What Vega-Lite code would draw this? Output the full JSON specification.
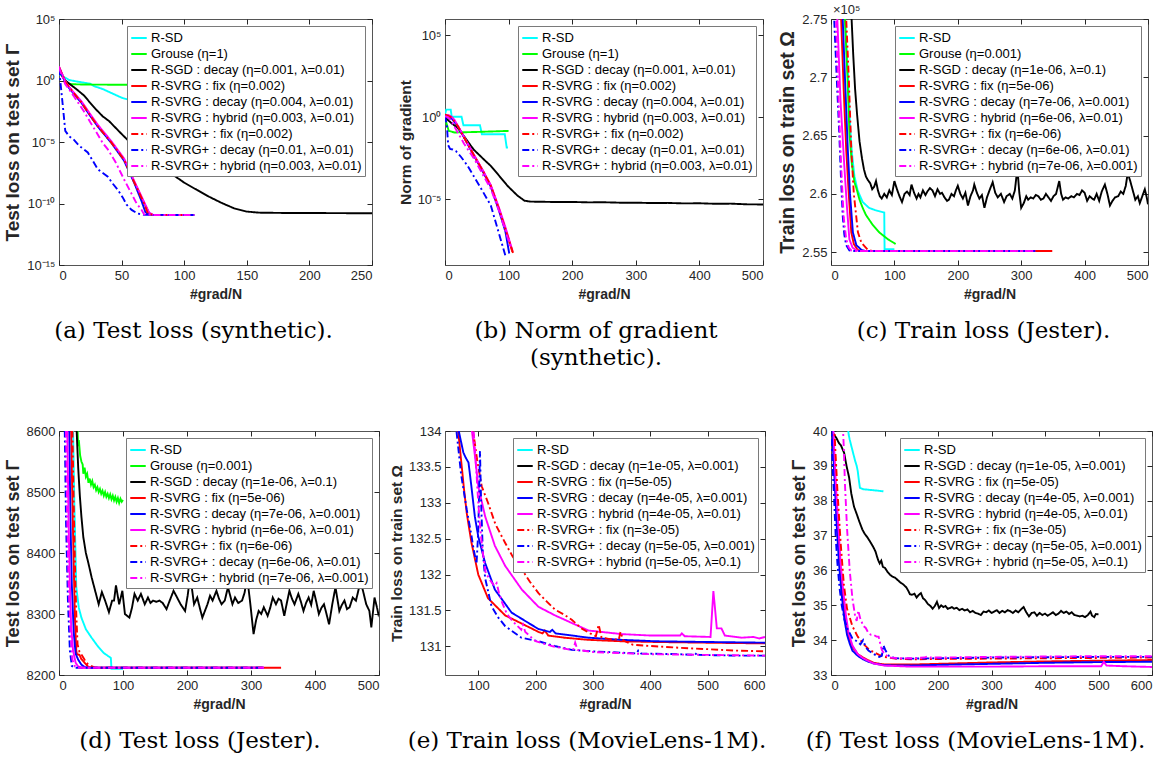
{
"$schema": "https://vega.github.io/schema/vega-lite/v6.json",
"background": "white",
"padding": {"left": 3, "top": 3, "right": 0, "bottom": 0},
"bounds": "flush",
"columns": 3,
"spacing": {"row": 166, "column": 66},
"config": {
  "font": "Liberation Sans",
  "view": {"stroke": "#555555", "strokeWidth": 1},
  "axis": {"domain": false, "grid": false, "ticks": true, "tickSize": -5, "tickColor": "#262626", "labelPadding": 9, "labelFont": "Liberation Sans", "labelFontSize": 13, "labelColor": "#262626", "titleFont": "Liberation Sans", "titleFontSize": 14, "titleFontWeight": "bold", "titleColor": "#262626", "titlePadding": 5},
  "axisY": {"titleFontSize": 16, "titlePadding": 4},
  "legend": {"orient": "top-right", "offset": 7, "fillColor": "white", "strokeColor": "#7a7a7a", "padding": 3, "labelFont": "Liberation Sans", "labelFontSize": 13, "labelColor": "#000000", "symbolSize": 240, "symbolStrokeWidth": 2, "rowPadding": 0, "labelOffset": 3, "labelLimit": 400},
  "title": {"orient": "bottom", "font": "DejaVu Serif", "fontSize": 23, "fontWeight": "normal", "color": "#000000", "offset": 19, "lineHeight": 27, "anchor": "middle"}
},
"resolve": {"scale": {"color": "independent", "strokeDash": "independent"}, "legend": {"color": "independent", "strokeDash": "independent"}},
"concat": [
{
 "width": 313, "height": 246,
 "title": {"text": "(a) Test loss (synthetic).", "dx": -22},
 "data": {"values": [
  {"k":"sd","x":0,"y":3.5},{"k":"sd","x":3,"y":2.2},{"k":"sd","x":6,"y":1.5},{"k":"sd","x":8,"y":1.1},{"k":"sd","x":15,"y":0.8},{"k":"sd","x":25,"y":0.55},{"k":"sd","x":28,"y":0.35},{"k":"sd","x":35,"y":0.2},{"k":"sd","x":50,"y":0.04},{"k":"sd","x":70,"y":0.01},{"k":"sd","x":100,"y":0.003},
  {"k":"gr","x":0,"y":12},{"k":"gr","x":2,"y":4},{"k":"gr","x":4,"y":1.5},{"k":"gr","x":6,"y":0.6},{"k":"gr","x":10,"y":0.5},{"k":"gr","x":20,"y":0.47},{"k":"gr","x":50,"y":0.45},{"k":"gr","x":100,"y":0.44},
  {"k":"sgd","x":0,"y":6},{"k":"sgd","x":5,"y":1.0},{"k":"sgd","x":10,"y":0.4},{"k":"sgd","x":15,"y":0.16},{"k":"sgd","x":20,"y":0.06},{"k":"sgd","x":25,"y":0.015},{"k":"sgd","x":30,"y":0.004},{"k":"sgd","x":35,"y":0.0012},{"k":"sgd","x":40,"y":0.0005},{"k":"sgd","x":45,"y":0.00015},{"k":"sgd","x":50,"y":4.5e-5},{"k":"sgd","x":55,"y":1.4e-5},{"k":"sgd","x":60,"y":5e-6},{"k":"sgd","x":70,"y":8e-7},{"k":"sgd","x":80,"y":1.3e-7},{"k":"sgd","x":90,"y":2.5e-8},{"k":"sgd","x":100,"y":5e-9},{"k":"sgd","x":110,"y":1.3e-9},{"k":"sgd","x":120,"y":3.5e-10},{"k":"sgd","x":130,"y":1.1e-10},{"k":"sgd","x":140,"y":4e-11},{"k":"sgd","x":150,"y":2.2e-11},{"k":"sgd","x":160,"y":1.8e-11},{"k":"sgd","x":180,"y":1.7e-11},{"k":"sgd","x":200,"y":1.7e-11},{"k":"sgd","x":220,"y":1.65e-11},{"k":"sgd","x":250,"y":1.6e-11},
  {"k":"svf","x":0,"y":12},{"k":"svf","x":2,"y":4},{"k":"svf","x":5,"y":0.8},{"k":"svf","x":8,"y":0.3},{"k":"svf","x":12,"y":0.09},{"k":"svf","x":18,"y":0.017},{"k":"svf","x":25,"y":0.0015},{"k":"svf","x":31,"y":0.0002},{"k":"svf","x":42,"y":9e-6},{"k":"svf","x":52,"y":3.8e-7},{"k":"svf","x":60,"y":6e-9},{"k":"svf","x":68,"y":1.1e-10},{"k":"svf","x":72,"y":1.6e-11},{"k":"svf","x":75,"y":1.2e-11},{"k":"svf","x":90,"y":1.15e-11},{"k":"svf","x":108,"y":1.15e-11},
  {"k":"svd","x":0,"y":10},{"k":"svd","x":2,"y":3.5},{"k":"svd","x":5,"y":0.7},{"k":"svd","x":8,"y":0.25},{"k":"svd","x":12,"y":0.08},{"k":"svd","x":18,"y":0.015},{"k":"svd","x":25,"y":0.0013},{"k":"svd","x":31,"y":0.00018},{"k":"svd","x":42,"y":8e-6},{"k":"svd","x":52,"y":3e-7},{"k":"svd","x":60,"y":5e-9},{"k":"svd","x":66,"y":1.5e-10},{"k":"svd","x":69,"y":2e-11},{"k":"svd","x":72,"y":1.2e-11},{"k":"svd","x":90,"y":1.15e-11},{"k":"svd","x":108,"y":1.15e-11},
  {"k":"svh","x":0,"y":14},{"k":"svh","x":2,"y":4.5},{"k":"svh","x":5,"y":0.9},{"k":"svh","x":8,"y":0.3},{"k":"svh","x":12,"y":0.1},{"k":"svh","x":18,"y":0.02},{"k":"svh","x":25,"y":0.0018},{"k":"svh","x":31,"y":0.00025},{"k":"svh","x":42,"y":1.1e-5},{"k":"svh","x":52,"y":4.5e-7},{"k":"svh","x":60,"y":7e-9},{"k":"svh","x":68,"y":1.3e-10},{"k":"svh","x":72,"y":1.8e-11},{"k":"svh","x":75,"y":1.2e-11},{"k":"svh","x":108,"y":1.15e-11},
  {"k":"spf","x":0,"y":12},{"k":"spf","x":2,"y":4},{"k":"spf","x":5,"y":0.8},{"k":"spf","x":8,"y":0.3},{"k":"spf","x":12,"y":0.09},{"k":"spf","x":18,"y":0.016},{"k":"spf","x":25,"y":0.0014},{"k":"spf","x":31,"y":0.00019},{"k":"spf","x":42,"y":8.5e-6},{"k":"spf","x":52,"y":3.5e-7},{"k":"spf","x":60,"y":5.5e-9},{"k":"spf","x":68,"y":1e-10},{"k":"spf","x":71,"y":1.5e-11},{"k":"spf","x":75,"y":1.2e-11},{"k":"spf","x":108,"y":1.15e-11},
  {"k":"spd","x":0,"y":10},{"k":"spd","x":1,"y":1},{"k":"spd","x":3,"y":0.01},{"k":"spd","x":5,"y":8e-5},{"k":"spd","x":8,"y":3e-5},{"k":"spd","x":12,"y":1.5e-5},{"k":"spd","x":16,"y":5e-6},{"k":"spd","x":20,"y":2.5e-6},{"k":"spd","x":23,"y":1.4e-6},{"k":"spd","x":27,"y":3e-7},{"k":"spd","x":31,"y":6e-8},{"k":"spd","x":35,"y":3e-8},{"k":"spd","x":39,"y":1.5e-8},{"k":"spd","x":43,"y":4e-9},{"k":"spd","x":47,"y":1.3e-9},{"k":"spd","x":51,"y":3e-10},{"k":"spd","x":54,"y":8e-11},{"k":"spd","x":58,"y":3e-11},{"k":"spd","x":63,"y":1.5e-11},{"k":"spd","x":68,"y":1.2e-11},{"k":"spd","x":108,"y":1.15e-11},
  {"k":"sph","x":0,"y":12},{"k":"sph","x":2,"y":3},{"k":"sph","x":5,"y":0.5},{"k":"sph","x":8,"y":0.2},{"k":"sph","x":12,"y":0.05},{"k":"sph","x":16,"y":0.012},{"k":"sph","x":20,"y":0.003},{"k":"sph","x":25,"y":0.0004},{"k":"sph","x":30,"y":6e-5},{"k":"sph","x":35,"y":8e-6},{"k":"sph","x":39,"y":2.5e-6},{"k":"sph","x":45,"y":2.5e-7},{"k":"sph","x":52,"y":9e-9},{"k":"sph","x":58,"y":6e-10},{"k":"sph","x":62,"y":1e-10},{"k":"sph","x":66,"y":3e-11},{"k":"sph","x":68,"y":1.3e-11},{"k":"sph","x":75,"y":1.15e-11},{"k":"sph","x":108,"y":1.15e-11}
 ]},
 "layer": [
  {"mark": {"type": "line", "clip": true, "strokeWidth": 1.9},
   "encoding": {
    "x": {"field": "x", "type": "quantitative", "scale": {"domain": [0, 250], "nice": false, "zero": false}, "axis": {"values": [0, 50, 100, 150, 200, 250], "title": "#grad/N"}},
    "y": {"field": "y", "type": "quantitative", "scale": {"type": "log", "domain": [1e-15, 100000], "nice": false}, "axis": {"values": [1e-15, 1e-10, 1e-5, 1, 100000], "labelExpr": "datum.value >= 1e4 ? '10⁵' : datum.value >= 0.1 ? '10⁰' : datum.value >= 1e-6 ? '10⁻⁵' : datum.value >= 1e-11 ? '10⁻¹⁰' : '10⁻¹⁵'", "title": "Test loss on test set Γ", "titleFontSize": 19}},
    "color": {"field": "k", "type": "nominal", "scale": {"domain": ["sd","gr","sgd","svf","svd","svh","spf","spd","sph"], "range": ["#00ffff","#00ff00","#000000","#ff0000","#0000ff","#ff00ff","#ff0000","#0000ff","#ff00ff"]}, "legend": {"title": null, "labelExpr": "['R-SD','Grouse (η=1)','R-SGD : decay (η=0.001, λ=0.01)','R-SVRG : fix (η=0.002)','R-SVRG : decay (η=0.004, λ=0.01)','R-SVRG : hybrid (η=0.003, λ=0.01)','R-SVRG+ : fix (η=0.002)','R-SVRG+ : decay (η=0.01, λ=0.01)','R-SVRG+ : hybrid (η=0.003, λ=0.01)'][indexof(['sd','gr','sgd','svf','svd','svh','spf','spd','sph'], datum.value)]"}},
    "strokeDash": {"field": "k", "type": "nominal", "scale": {"domain": ["sd","gr","sgd","svf","svd","svh","spf","spd","sph"], "range": [[1,0],[1,0],[1,0],[1,0],[1,0],[1,0],[7,3,2,3],[7,3,2,3],[7,3,2,3]]}, "legend": {"title": null, "labelExpr": "['R-SD','Grouse (η=1)','R-SGD : decay (η=0.001, λ=0.01)','R-SVRG : fix (η=0.002)','R-SVRG : decay (η=0.004, λ=0.01)','R-SVRG : hybrid (η=0.003, λ=0.01)','R-SVRG+ : fix (η=0.002)','R-SVRG+ : decay (η=0.01, λ=0.01)','R-SVRG+ : hybrid (η=0.003, λ=0.01)'][indexof(['sd','gr','sgd','svf','svd','svh','spf','spd','sph'], datum.value)]"}}
   }},
  {"mark": {"type": "line", "opacity": 0, "clip": true},
   "encoding": {
    "x": {"field": "x", "type": "quantitative", "scale": {"domain": [0, 250], "nice": false, "zero": false}, "axis": {"orient": "top", "values": [0, 50, 100, 150, 200, 250], "labels": false, "title": null}},
    "y": {"field": "y", "type": "quantitative", "scale": {"type": "log", "domain": [1e-15, 100000], "nice": false}, "axis": {"orient": "right", "values": [1e-15, 1e-10, 1e-5, 1, 100000], "labels": false, "title": null}}
   }}
 ],
 "resolve": {"axis": {"x": "independent", "y": "independent"}}
},
{
 "width": 318, "height": 246,
 "title": {"text": ["(b) Norm of gradient", "(synthetic)."], "dx": -8},
 "data": {"values": [
  {"k":"sd","x":0,"y":1.5},{"k":"sd","x":2,"y":3.0},{"k":"sd","x":9,"y":3.0},{"k":"sd","x":10.5,"y":1.1},{"k":"sd","x":26,"y":1.1},{"k":"sd","x":29,"y":0.33},{"k":"sd","x":55,"y":0.33},{"k":"sd","x":58,"y":0.093},{"k":"sd","x":94,"y":0.093},{"k":"sd","x":97,"y":0.0145},{"k":"sd","x":99,"y":0.0145},
  {"k":"gr","x":0,"y":1.0},{"k":"gr","x":3,"y":0.35},{"k":"gr","x":6,"y":0.15},{"k":"gr","x":15,"y":0.12},{"k":"gr","x":50,"y":0.13},{"k":"gr","x":100,"y":0.15},
  {"k":"sgd","x":0,"y":1.0},{"k":"sgd","x":10,"y":0.45},{"k":"sgd","x":20,"y":0.23},{"k":"sgd","x":30,"y":0.07},{"k":"sgd","x":45,"y":0.011},{"k":"sgd","x":60,"y":0.003},{"k":"sgd","x":72,"y":0.0011},{"k":"sgd","x":85,"y":0.00028},{"k":"sgd","x":98,"y":6.9e-5},{"k":"sgd","x":114,"y":1.7e-5},{"k":"sgd","x":125,"y":8.3e-6},{"k":"sgd","x":135,"y":7.3e-6},{"k":"sgd","x":150,"y":7.2e-6},{"k":"sgd","x":175,"y":6.9e-6},{"k":"sgd","x":200,"y":7.0e-6},{"k":"sgd","x":225,"y":6.6e-6},{"k":"sgd","x":250,"y":6.7e-6},{"k":"sgd","x":275,"y":6.3e-6},{"k":"sgd","x":300,"y":6.3e-6},{"k":"sgd","x":325,"y":6.0e-6},{"k":"sgd","x":350,"y":6.1e-6},{"k":"sgd","x":375,"y":5.7e-6},{"k":"sgd","x":400,"y":5.8e-6},{"k":"sgd","x":425,"y":5.4e-6},{"k":"sgd","x":450,"y":5.5e-6},{"k":"sgd","x":475,"y":5.0e-6},{"k":"sgd","x":500,"y":4.9e-6},
  {"k":"svf","x":0,"y":1.5},{"k":"svf","x":5,"y":1.3},{"k":"svf","x":8,"y":1.2},{"k":"svf","x":12,"y":0.9},{"k":"svf","x":20,"y":0.3},{"k":"svf","x":30,"y":0.06},{"k":"svf","x":46,"y":0.0046},{"k":"svf","x":60,"y":0.0005},{"k":"svf","x":72,"y":6.9e-5},{"k":"svf","x":85,"y":2.5e-6},{"k":"svf","x":95,"y":1.6e-7},{"k":"svf","x":106,"y":6.3e-9},
  {"k":"svd","x":0,"y":1.3},{"k":"svd","x":5,"y":1.1},{"k":"svd","x":10,"y":0.9},{"k":"svd","x":20,"y":0.3},{"k":"svd","x":30,"y":0.06},{"k":"svd","x":46,"y":0.0043},{"k":"svd","x":60,"y":0.00045},{"k":"svd","x":72,"y":6e-5},{"k":"svd","x":85,"y":2e-6},{"k":"svd","x":95,"y":1.1e-7},{"k":"svd","x":101,"y":5e-9},
  {"k":"svh","x":0,"y":1.2},{"k":"svh","x":5,"y":1.4},{"k":"svh","x":10,"y":1.1},{"k":"svh","x":15,"y":0.7},{"k":"svh","x":20,"y":0.32},{"k":"svh","x":30,"y":0.065},{"k":"svh","x":46,"y":0.0048},{"k":"svh","x":60,"y":0.00055},{"k":"svh","x":72,"y":7.5e-5},{"k":"svh","x":85,"y":3e-6},{"k":"svh","x":95,"y":2e-7},{"k":"svh","x":106,"y":7.5e-9},
  {"k":"spf","x":0,"y":1.4},{"k":"spf","x":5,"y":1.25},{"k":"spf","x":10,"y":1.0},{"k":"spf","x":20,"y":0.3},{"k":"spf","x":30,"y":0.06},{"k":"spf","x":46,"y":0.0045},{"k":"spf","x":60,"y":0.0005},{"k":"spf","x":72,"y":6.8e-5},{"k":"spf","x":85,"y":2.5e-6},{"k":"spf","x":95,"y":1.5e-7},{"k":"spf","x":107,"y":5.5e-9},
  {"k":"spd","x":0,"y":1.3},{"k":"spd","x":3,"y":0.3},{"k":"spd","x":5,"y":0.02},{"k":"spd","x":8,"y":0.012},{"k":"spd","x":12,"y":0.011},{"k":"spd","x":17,"y":0.009},{"k":"spd","x":25,"y":0.004},{"k":"spd","x":35,"y":0.0012},{"k":"spd","x":45,"y":0.00027},{"k":"spd","x":55,"y":6e-5},{"k":"spd","x":72,"y":4.3e-6},{"k":"spd","x":85,"y":8e-8},{"k":"spd","x":95,"y":3.6e-9},
  {"k":"sph","x":0,"y":1.2},{"k":"sph","x":5,"y":1.0},{"k":"sph","x":10,"y":0.6},{"k":"sph","x":20,"y":0.12},{"k":"sph","x":30,"y":0.025},{"k":"sph","x":46,"y":0.0029},{"k":"sph","x":60,"y":0.0003},{"k":"sph","x":72,"y":4.4e-5},{"k":"sph","x":85,"y":2e-6},{"k":"sph","x":95,"y":1.2e-7},{"k":"sph","x":104,"y":1e-8}
 ]},
 "layer": [
  {"mark": {"type": "line", "clip": true, "strokeWidth": 1.9},
   "encoding": {
    "x": {"field": "x", "type": "quantitative", "scale": {"domain": [0, 500], "nice": false, "zero": false}, "axis": {"values": [0, 100, 200, 300, 400, 500], "title": "#grad/N"}},
    "y": {"field": "y", "type": "quantitative", "scale": {"type": "log", "domain": [1e-9, 1000000], "nice": false}, "axis": {"values": [1e-5, 1, 100000], "labelExpr": "datum.value >= 1e4 ? '10⁵' : datum.value >= 0.1 ? '10⁰' : '10⁻⁵'", "title": "Norm of gradient", "titleFontSize": 15.5}},
    "color": {"field": "k", "type": "nominal", "scale": {"domain": ["sd","gr","sgd","svf","svd","svh","spf","spd","sph"], "range": ["#00ffff","#00ff00","#000000","#ff0000","#0000ff","#ff00ff","#ff0000","#0000ff","#ff00ff"]}, "legend": {"title": null, "labelExpr": "['R-SD','Grouse (η=1)','R-SGD : decay (η=0.001, λ=0.01)','R-SVRG : fix (η=0.002)','R-SVRG : decay (η=0.004, λ=0.01)','R-SVRG : hybrid (η=0.003, λ=0.01)','R-SVRG+ : fix (η=0.002)','R-SVRG+ : decay (η=0.01, λ=0.01)','R-SVRG+ : hybrid (η=0.003, λ=0.01)'][indexof(['sd','gr','sgd','svf','svd','svh','spf','spd','sph'], datum.value)]"}},
    "strokeDash": {"field": "k", "type": "nominal", "scale": {"domain": ["sd","gr","sgd","svf","svd","svh","spf","spd","sph"], "range": [[1,0],[1,0],[1,0],[1,0],[1,0],[1,0],[7,3,2,3],[7,3,2,3],[7,3,2,3]]}, "legend": {"title": null, "labelExpr": "['R-SD','Grouse (η=1)','R-SGD : decay (η=0.001, λ=0.01)','R-SVRG : fix (η=0.002)','R-SVRG : decay (η=0.004, λ=0.01)','R-SVRG : hybrid (η=0.003, λ=0.01)','R-SVRG+ : fix (η=0.002)','R-SVRG+ : decay (η=0.01, λ=0.01)','R-SVRG+ : hybrid (η=0.003, λ=0.01)'][indexof(['sd','gr','sgd','svf','svd','svh','spf','spd','sph'], datum.value)]"}}
   }},
  {"mark": {"type": "line", "opacity": 0, "clip": true},
   "encoding": {
    "x": {"field": "x", "type": "quantitative", "scale": {"domain": [0, 500], "nice": false, "zero": false}, "axis": {"orient": "top", "values": [0, 100, 200, 300, 400, 500], "labels": false, "title": null}},
    "y": {"field": "y", "type": "quantitative", "scale": {"type": "log", "domain": [1e-9, 1000000], "nice": false}, "axis": {"orient": "right", "values": [1e-5, 1, 100000], "labels": false, "title": null}}
   }}
 ],
 "resolve": {"axis": {"x": "independent", "y": "independent"}}
},
{
 "width": 317, "height": 246,
 "title": {"text": "(c) Train loss (Jester).", "dx": -6},
 "data": {"values": [
  {"k":"sd","x":18,"y":2.80},{"k":"sd","x":22,"y":2.75},{"k":"sd","x":25,"y":2.72},{"k":"sd","x":27,"y":2.70},{"k":"sd","x":30,"y":2.66},{"k":"sd","x":33,"y":2.635},{"k":"sd","x":37,"y":2.615},{"k":"sd","x":42,"y":2.603},{"k":"sd","x":50,"y":2.593},{"k":"sd","x":60,"y":2.588},{"k":"sd","x":70,"y":2.586},{"k":"sd","x":84,"y":2.584},{"k":"sd","x":84.5,"y":2.5525},{"k":"sd","x":100,"y":2.5525},
  {"k":"gr","x":18,"y":2.80},{"k":"gr","x":22,"y":2.75},{"k":"gr","x":26,"y":2.70},{"k":"gr","x":29,"y":2.652},{"k":"gr","x":33,"y":2.625},{"k":"gr","x":37,"y":2.61},{"k":"gr","x":40,"y":2.605},{"k":"gr","x":45,"y":2.595},{"k":"gr","x":50,"y":2.588},{"k":"gr","x":55,"y":2.582},{"k":"gr","x":65,"y":2.574},{"k":"gr","x":76,"y":2.567},{"k":"gr","x":90,"y":2.561},{"k":"gr","x":102,"y":2.557},
  {"k":"sgd","x":30,"y":2.80},{"k":"sgd","x":32.5,"y":2.75},{"k":"sgd","x":35,"y":2.72},{"k":"sgd","x":38,"y":2.69},{"k":"sgd","x":41,"y":2.669},{"k":"sgd","x":45,"y":2.645},{"k":"sgd","x":49,"y":2.63},{"k":"sgd","x":52,"y":2.621},{"k":"sgd","x":55,"y":2.615},{"k":"sgd","x":58,"y":2.612},{"k":"sgd","x":62,"y":2.609},{"k":"sgd","x":65,"y":2.604},{"k":"sgd","x":68,"y":2.606},{"k":"sgd","x":71,"y":2.611},{"k":"sgd","x":74,"y":2.603},{"k":"sgd","x":77,"y":2.598},{"k":"sgd","x":80,"y":2.596},{"k":"sgd","x":84,"y":2.600},{"k":"sgd","x":88,"y":2.597},{"k":"sgd","x":92,"y":2.603},{"k":"sgd","x":96,"y":2.599},{"k":"sgd","x":100,"y":2.611},{"k":"sgd","x":104,"y":2.604},{"k":"sgd","x":108,"y":2.598},{"k":"sgd","x":112,"y":2.593},{"k":"sgd","x":116,"y":2.600},{"k":"sgd","x":120,"y":2.602},{"k":"sgd","x":124,"y":2.599},{"k":"sgd","x":127,"y":2.608},{"k":"sgd","x":131,"y":2.601},{"k":"sgd","x":135,"y":2.596},{"k":"sgd","x":138,"y":2.600},{"k":"sgd","x":141,"y":2.597},{"k":"sgd","x":145,"y":2.603},{"k":"sgd","x":149,"y":2.599},{"k":"sgd","x":152,"y":2.602},{"k":"sgd","x":156,"y":2.605},{"k":"sgd","x":160,"y":2.603},{"k":"sgd","x":164,"y":2.598},{"k":"sgd","x":168,"y":2.604},{"k":"sgd","x":172,"y":2.600},{"k":"sgd","x":175,"y":2.601},{"k":"sgd","x":179,"y":2.597},{"k":"sgd","x":183,"y":2.594},{"k":"sgd","x":186,"y":2.595},{"k":"sgd","x":190,"y":2.600},{"k":"sgd","x":194,"y":2.598},{"k":"sgd","x":197,"y":2.603},{"k":"sgd","x":200,"y":2.607},{"k":"sgd","x":204,"y":2.600},{"k":"sgd","x":208,"y":2.596},{"k":"sgd","x":212,"y":2.601},{"k":"sgd","x":216,"y":2.590},{"k":"sgd","x":220,"y":2.598},{"k":"sgd","x":224,"y":2.603},{"k":"sgd","x":226,"y":2.608},{"k":"sgd","x":230,"y":2.601},{"k":"sgd","x":234,"y":2.596},{"k":"sgd","x":238,"y":2.599},{"k":"sgd","x":242,"y":2.588},{"k":"sgd","x":246,"y":2.597},{"k":"sgd","x":250,"y":2.603},{"k":"sgd","x":255,"y":2.610},{"k":"sgd","x":259,"y":2.601},{"k":"sgd","x":263,"y":2.597},{"k":"sgd","x":268,"y":2.600},{"k":"sgd","x":273,"y":2.593},{"k":"sgd","x":277,"y":2.598},{"k":"sgd","x":282,"y":2.600},{"k":"sgd","x":286,"y":2.596},{"k":"sgd","x":290,"y":2.603},{"k":"sgd","x":294,"y":2.622},{"k":"sgd","x":297,"y":2.601},{"k":"sgd","x":300,"y":2.588},{"k":"sgd","x":304,"y":2.592},{"k":"sgd","x":308,"y":2.598},{"k":"sgd","x":311,"y":2.595},{"k":"sgd","x":315,"y":2.597},{"k":"sgd","x":319,"y":2.596},{"k":"sgd","x":323,"y":2.599},{"k":"sgd","x":327,"y":2.598},{"k":"sgd","x":331,"y":2.595},{"k":"sgd","x":335,"y":2.596},{"k":"sgd","x":339,"y":2.600},{"k":"sgd","x":343,"y":2.597},{"k":"sgd","x":347,"y":2.594},{"k":"sgd","x":351,"y":2.598},{"k":"sgd","x":355,"y":2.600},{"k":"sgd","x":360,"y":2.611},{"k":"sgd","x":363,"y":2.600},{"k":"sgd","x":366,"y":2.595},{"k":"sgd","x":370,"y":2.597},{"k":"sgd","x":374,"y":2.596},{"k":"sgd","x":379,"y":2.598},{"k":"sgd","x":383,"y":2.597},{"k":"sgd","x":388,"y":2.600},{"k":"sgd","x":392,"y":2.599},{"k":"sgd","x":396,"y":2.603},{"k":"sgd","x":400,"y":2.601},{"k":"sgd","x":404,"y":2.594},{"k":"sgd","x":408,"y":2.598},{"k":"sgd","x":412,"y":2.596},{"k":"sgd","x":415,"y":2.595},{"k":"sgd","x":419,"y":2.600},{"k":"sgd","x":423,"y":2.594},{"k":"sgd","x":427,"y":2.602},{"k":"sgd","x":432,"y":2.608},{"k":"sgd","x":436,"y":2.600},{"k":"sgd","x":440,"y":2.590},{"k":"sgd","x":444,"y":2.594},{"k":"sgd","x":448,"y":2.597},{"k":"sgd","x":453,"y":2.598},{"k":"sgd","x":457,"y":2.602},{"k":"sgd","x":461,"y":2.600},{"k":"sgd","x":465,"y":2.607},{"k":"sgd","x":468,"y":2.618},{"k":"sgd","x":472,"y":2.611},{"k":"sgd","x":476,"y":2.603},{"k":"sgd","x":480,"y":2.595},{"k":"sgd","x":484,"y":2.598},{"k":"sgd","x":487,"y":2.592},{"k":"sgd","x":491,"y":2.598},{"k":"sgd","x":495,"y":2.604},{"k":"sgd","x":498,"y":2.597},{"k":"sgd","x":500,"y":2.591},
  {"k":"svf","x":14,"y":2.80},{"k":"svf","x":16,"y":2.75},{"k":"svf","x":20,"y":2.69},{"k":"svf","x":24,"y":2.638},{"k":"svf","x":28,"y":2.60},{"k":"svf","x":32,"y":2.567},{"k":"svf","x":36,"y":2.557},{"k":"svf","x":42,"y":2.552},{"k":"svf","x":50,"y":2.551},{"k":"svf","x":200,"y":2.551},{"k":"svf","x":349,"y":2.551},
  {"k":"svd","x":16,"y":2.80},{"k":"svd","x":18.5,"y":2.75},{"k":"svd","x":22,"y":2.70},{"k":"svd","x":26.5,"y":2.638},{"k":"svd","x":30,"y":2.60},{"k":"svd","x":34.5,"y":2.567},{"k":"svd","x":40,"y":2.556},{"k":"svd","x":48,"y":2.552},{"k":"svd","x":55,"y":2.551},{"k":"svd","x":322,"y":2.551},
  {"k":"svh","x":8,"y":2.80},{"k":"svh","x":10,"y":2.75},{"k":"svh","x":15,"y":2.68},{"k":"svh","x":21,"y":2.624},{"k":"svh","x":25,"y":2.59},{"k":"svh","x":29,"y":2.561},{"k":"svh","x":34,"y":2.554},{"k":"svh","x":40,"y":2.5515},{"k":"svh","x":45,"y":2.551},{"k":"svh","x":322,"y":2.551},
  {"k":"spf","x":21,"y":2.80},{"k":"spf","x":24,"y":2.75},{"k":"spf","x":28,"y":2.70},{"k":"spf","x":32,"y":2.638},{"k":"spf","x":36,"y":2.60},{"k":"spf","x":42.5,"y":2.567},{"k":"spf","x":48,"y":2.558},{"k":"spf","x":58,"y":2.552},{"k":"spf","x":65,"y":2.551},{"k":"spf","x":322,"y":2.551},
  {"k":"spd","x":3,"y":2.80},{"k":"spd","x":5,"y":2.75},{"k":"spd","x":9,"y":2.70},{"k":"spd","x":13,"y":2.652},{"k":"spd","x":16,"y":2.61},{"k":"spd","x":18.5,"y":2.581},{"k":"spd","x":21,"y":2.565},{"k":"spd","x":24,"y":2.556},{"k":"spd","x":29,"y":2.5515},{"k":"spd","x":35,"y":2.551},{"k":"spd","x":322,"y":2.551},
  {"k":"sph","x":6,"y":2.80},{"k":"sph","x":8,"y":2.75},{"k":"sph","x":12,"y":2.68},{"k":"sph","x":16,"y":2.624},{"k":"sph","x":20,"y":2.58},{"k":"sph","x":24,"y":2.561},{"k":"sph","x":28,"y":2.554},{"k":"sph","x":32,"y":2.5515},{"k":"sph","x":38,"y":2.551},{"k":"sph","x":322,"y":2.551}
 ]},
 "layer": [
  {"mark": {"type": "line", "clip": true, "strokeWidth": 1.9},
   "encoding": {
    "x": {"field": "x", "type": "quantitative", "scale": {"domain": [0, 500], "nice": false, "zero": false}, "axis": {"values": [0, 100, 200, 300, 400, 500], "title": "#grad/N"}},
    "y": {"field": "y", "type": "quantitative", "scale": {"domain": [2.539, 2.75], "nice": false, "zero": false}, "axis": {"values": [2.55, 2.6, 2.65, 2.7, 2.75], "format": "~g", "title": "Train loss on train set Ω", "titleFontSize": 19.5}},
    "color": {"field": "k", "type": "nominal", "scale": {"domain": ["sd","gr","sgd","svf","svd","svh","spf","spd","sph"], "range": ["#00ffff","#00ff00","#000000","#ff0000","#0000ff","#ff00ff","#ff0000","#0000ff","#ff00ff"]}, "legend": {"title": null, "labelExpr": "['R-SD','Grouse (η=0.001)','R-SGD : decay (η=1e-06, λ=0.1)','R-SVRG : fix (η=5e-06)','R-SVRG : decay (η=7e-06, λ=0.001)','R-SVRG : hybrid (η=6e-06, λ=0.01)','R-SVRG+ : fix (η=6e-06)','R-SVRG+ : decay (η=6e-06, λ=0.01)','R-SVRG+ : hybrid (η=7e-06, λ=0.001)'][indexof(['sd','gr','sgd','svf','svd','svh','spf','spd','sph'], datum.value)]"}},
    "strokeDash": {"field": "k", "type": "nominal", "scale": {"domain": ["sd","gr","sgd","svf","svd","svh","spf","spd","sph"], "range": [[1,0],[1,0],[1,0],[1,0],[1,0],[1,0],[7,3,2,3],[7,3,2,3],[7,3,2,3]]}, "legend": {"title": null, "labelExpr": "['R-SD','Grouse (η=0.001)','R-SGD : decay (η=1e-06, λ=0.1)','R-SVRG : fix (η=5e-06)','R-SVRG : decay (η=7e-06, λ=0.001)','R-SVRG : hybrid (η=6e-06, λ=0.01)','R-SVRG+ : fix (η=6e-06)','R-SVRG+ : decay (η=6e-06, λ=0.01)','R-SVRG+ : hybrid (η=7e-06, λ=0.001)'][indexof(['sd','gr','sgd','svf','svd','svh','spf','spd','sph'], datum.value)]"}}
   }},
  {"mark": {"type": "line", "opacity": 0, "clip": true},
   "encoding": {
    "x": {"field": "x", "type": "quantitative", "scale": {"domain": [0, 500], "nice": false, "zero": false}, "axis": {"orient": "top", "values": [0, 100, 200, 300, 400, 500], "labels": false, "title": null}},
    "y": {"field": "y", "type": "quantitative", "scale": {"domain": [2.539, 2.75], "nice": false, "zero": false}, "axis": {"orient": "right", "values": [2.55, 2.6, 2.65, 2.7, 2.75], "labels": false, "title": null}}
   }},
  {"data": {"values": [{"x": 0, "y": 2.75, "t": "×10⁵"}]},
   "mark": {"type": "text", "align": "left", "baseline": "bottom", "dx": 2, "dy": -2, "fontSize": 13, "color": "#262626", "font": "Liberation Sans"},
   "encoding": {
    "x": {"field": "x", "type": "quantitative", "axis": null},
    "y": {"field": "y", "type": "quantitative", "axis": null},
    "text": {"field": "t"}
   }}
 ],
 "resolve": {"axis": {"x": "independent", "y": "independent"}}
},
{
 "width": 320, "height": 244,
 "title": {"text": "(d) Test loss (Jester).", "dx": -19},
 "data": {"values": [
  {"k":"sd","x":20,"y":8650},{"k":"sd","x":22,"y":8600},{"k":"sd","x":24,"y":8480},{"k":"sd","x":27,"y":8344},{"k":"sd","x":31,"y":8310},{"k":"sd","x":35,"y":8294},{"k":"sd","x":42,"y":8275},{"k":"sd","x":51,"y":8261},{"k":"sd","x":60,"y":8248},{"k":"sd","x":70,"y":8236},{"k":"sd","x":81,"y":8228},{"k":"sd","x":82,"y":8210},{"k":"sd","x":100,"y":8210},
  {"k":"gr","x":28,"y":8620},{"k":"gr","x":29,"y":8600},{"k":"gr","x":30,"y":8575},{"k":"gr","x":31,"y":8585},{"k":"gr","x":33,"y":8560},{"k":"gr","x":35,"y":8550},{"k":"gr","x":37,"y":8545},{"k":"gr","x":38,"y":8530},{"k":"gr","x":40,"y":8540},{"k":"gr","x":42,"y":8525},{"k":"gr","x":44,"y":8530},{"k":"gr","x":46,"y":8515},{"k":"gr","x":48,"y":8522},{"k":"gr","x":50,"y":8512},{"k":"gr","x":52,"y":8518},{"k":"gr","x":54,"y":8508},{"k":"gr","x":56,"y":8512},{"k":"gr","x":58,"y":8503},{"k":"gr","x":60,"y":8508},{"k":"gr","x":62,"y":8500},{"k":"gr","x":64,"y":8505},{"k":"gr","x":66,"y":8497},{"k":"gr","x":68,"y":8502},{"k":"gr","x":70,"y":8494},{"k":"gr","x":72,"y":8500},{"k":"gr","x":74,"y":8492},{"k":"gr","x":76,"y":8497},{"k":"gr","x":78,"y":8490},{"k":"gr","x":80,"y":8496},{"k":"gr","x":82,"y":8488},{"k":"gr","x":84,"y":8494},{"k":"gr","x":86,"y":8486},{"k":"gr","x":88,"y":8492},{"k":"gr","x":90,"y":8484},{"k":"gr","x":92,"y":8490},{"k":"gr","x":94,"y":8482},{"k":"gr","x":96,"y":8489},{"k":"gr","x":98,"y":8484},{"k":"gr","x":100,"y":8487},
  {"k":"sgd","x":26,"y":8650},{"k":"sgd","x":27.6,"y":8600},{"k":"sgd","x":30,"y":8540},{"k":"sgd","x":32.6,"y":8493},{"k":"sgd","x":35,"y":8460},{"k":"sgd","x":38,"y":8426},{"k":"sgd","x":42,"y":8400},{"k":"sgd","x":46,"y":8383},{"k":"sgd","x":51,"y":8360},{"k":"sgd","x":56,"y":8340},{"k":"sgd","x":62,"y":8316},{"k":"sgd","x":67,"y":8336},{"k":"sgd","x":72,"y":8322},{"k":"sgd","x":78,"y":8303},{"k":"sgd","x":83,"y":8322},{"k":"sgd","x":86,"y":8322},{"k":"sgd","x":89,"y":8347},{"k":"sgd","x":94,"y":8316},{"k":"sgd","x":99,"y":8338},{"k":"sgd","x":103,"y":8300},{"k":"sgd","x":110,"y":8294},{"k":"sgd","x":114,"y":8310},{"k":"sgd","x":118,"y":8333},{"k":"sgd","x":123,"y":8322},{"k":"sgd","x":128,"y":8333},{"k":"sgd","x":134,"y":8316},{"k":"sgd","x":139,"y":8327},{"k":"sgd","x":143,"y":8318},{"k":"sgd","x":147,"y":8322},{"k":"sgd","x":152,"y":8320},{"k":"sgd","x":157,"y":8322},{"k":"sgd","x":162,"y":8318},{"k":"sgd","x":168,"y":8308},{"k":"sgd","x":173,"y":8322},{"k":"sgd","x":179,"y":8338},{"k":"sgd","x":184,"y":8328},{"k":"sgd","x":190,"y":8316},{"k":"sgd","x":197,"y":8305},{"k":"sgd","x":201,"y":8330},{"k":"sgd","x":205,"y":8363},{"k":"sgd","x":211,"y":8316},{"k":"sgd","x":216,"y":8327},{"k":"sgd","x":220,"y":8310},{"k":"sgd","x":224,"y":8294},{"k":"sgd","x":228,"y":8305},{"k":"sgd","x":232,"y":8316},{"k":"sgd","x":236,"y":8330},{"k":"sgd","x":240,"y":8322},{"k":"sgd","x":246,"y":8338},{"k":"sgd","x":250,"y":8325},{"k":"sgd","x":254,"y":8316},{"k":"sgd","x":259,"y":8322},{"k":"sgd","x":264,"y":8344},{"k":"sgd","x":271,"y":8316},{"k":"sgd","x":275,"y":8327},{"k":"sgd","x":280,"y":8318},{"k":"sgd","x":286,"y":8322},{"k":"sgd","x":290,"y":8335},{"k":"sgd","x":294,"y":8361},{"k":"sgd","x":299,"y":8316},{"k":"sgd","x":304,"y":8267},{"k":"sgd","x":308,"y":8290},{"k":"sgd","x":312,"y":8305},{"k":"sgd","x":316,"y":8300},{"k":"sgd","x":320,"y":8311},{"k":"sgd","x":326,"y":8297},{"k":"sgd","x":330,"y":8310},{"k":"sgd","x":334,"y":8327},{"k":"sgd","x":339,"y":8316},{"k":"sgd","x":343,"y":8325},{"k":"sgd","x":347,"y":8322},{"k":"sgd","x":352,"y":8297},{"k":"sgd","x":356,"y":8318},{"k":"sgd","x":360,"y":8338},{"k":"sgd","x":364,"y":8325},{"k":"sgd","x":368,"y":8316},{"k":"sgd","x":374,"y":8333},{"k":"sgd","x":378,"y":8320},{"k":"sgd","x":382,"y":8305},{"k":"sgd","x":386,"y":8318},{"k":"sgd","x":390,"y":8327},{"k":"sgd","x":394,"y":8315},{"k":"sgd","x":398,"y":8338},{"k":"sgd","x":402,"y":8320},{"k":"sgd","x":406,"y":8300},{"k":"sgd","x":410,"y":8310},{"k":"sgd","x":414,"y":8316},{"k":"sgd","x":418,"y":8300},{"k":"sgd","x":422,"y":8283},{"k":"sgd","x":427,"y":8316},{"k":"sgd","x":432,"y":8344},{"k":"sgd","x":438,"y":8305},{"k":"sgd","x":442,"y":8315},{"k":"sgd","x":446,"y":8322},{"k":"sgd","x":450,"y":8308},{"k":"sgd","x":454,"y":8311},{"k":"sgd","x":459,"y":8327},{"k":"sgd","x":464,"y":8322},{"k":"sgd","x":469,"y":8344},{"k":"sgd","x":472,"y":8350},{"k":"sgd","x":475,"y":8338},{"k":"sgd","x":480,"y":8316},{"k":"sgd","x":485,"y":8305},{"k":"sgd","x":488,"y":8278},{"k":"sgd","x":493,"y":8327},{"k":"sgd","x":497,"y":8310},{"k":"sgd","x":499,"y":8300},{"k":"sgd","x":500,"y":8303},
  {"k":"svf","x":17,"y":8650},{"k":"svf","x":19,"y":8600},{"k":"svf","x":21,"y":8480},{"k":"svf","x":23,"y":8380},{"k":"svf","x":25,"y":8290},{"k":"svf","x":27,"y":8240},{"k":"svf","x":28,"y":8234},{"k":"svf","x":32,"y":8233},{"k":"svf","x":35,"y":8226},{"k":"svf","x":40,"y":8220},{"k":"svf","x":45,"y":8214},{"k":"svf","x":50,"y":8212},{"k":"svf","x":200,"y":8212},{"k":"svf","x":347,"y":8212},
  {"k":"svd","x":14,"y":8650},{"k":"svd","x":16,"y":8600},{"k":"svd","x":18,"y":8450},{"k":"svd","x":20,"y":8350},{"k":"svd","x":23,"y":8270},{"k":"svd","x":26,"y":8235},{"k":"svd","x":30,"y":8225},{"k":"svd","x":35,"y":8217},{"k":"svd","x":40,"y":8213},{"k":"svd","x":45,"y":8212},{"k":"svd","x":320,"y":8212},
  {"k":"svh","x":11,"y":8650},{"k":"svh","x":13,"y":8600},{"k":"svh","x":15,"y":8450},{"k":"svh","x":17,"y":8350},{"k":"svh","x":19,"y":8280},{"k":"svh","x":22,"y":8240},{"k":"svh","x":26,"y":8220},{"k":"svh","x":30,"y":8214},{"k":"svh","x":35,"y":8212},{"k":"svh","x":320,"y":8212},
  {"k":"spf","x":19,"y":8650},{"k":"spf","x":21,"y":8600},{"k":"spf","x":23,"y":8480},{"k":"spf","x":25,"y":8380},{"k":"spf","x":27,"y":8300},{"k":"spf","x":29,"y":8250},{"k":"spf","x":32,"y":8238},{"k":"spf","x":36,"y":8232},{"k":"spf","x":40,"y":8225},{"k":"spf","x":45,"y":8218},{"k":"spf","x":50,"y":8215},{"k":"spf","x":56,"y":8212},{"k":"spf","x":320,"y":8212},
  {"k":"spd","x":7,"y":8650},{"k":"spd","x":9,"y":8600},{"k":"spd","x":11,"y":8450},{"k":"spd","x":14,"y":8320},{"k":"spd","x":17,"y":8240},{"k":"spd","x":20,"y":8215},{"k":"spd","x":24,"y":8212},{"k":"spd","x":320,"y":8212},
  {"k":"sph","x":9,"y":8650},{"k":"sph","x":11,"y":8600},{"k":"sph","x":13,"y":8450},{"k":"sph","x":15,"y":8350},{"k":"sph","x":18,"y":8270},{"k":"sph","x":21,"y":8225},{"k":"sph","x":25,"y":8214},{"k":"sph","x":28,"y":8212},{"k":"sph","x":320,"y":8212}
 ]},
 "layer": [
  {"mark": {"type": "line", "clip": true, "strokeWidth": 1.9},
   "encoding": {
    "x": {"field": "x", "type": "quantitative", "scale": {"domain": [0, 500], "nice": false, "zero": false}, "axis": {"values": [0, 100, 200, 300, 400, 500], "title": "#grad/N"}},
    "y": {"field": "y", "type": "quantitative", "scale": {"domain": [8200, 8600], "nice": false, "zero": false}, "axis": {"values": [8200, 8300, 8400, 8500, 8600], "format": "d", "title": "Test loss on test set Γ", "titleFontSize": 18}},
    "color": {"field": "k", "type": "nominal", "scale": {"domain": ["sd","gr","sgd","svf","svd","svh","spf","spd","sph"], "range": ["#00ffff","#00ff00","#000000","#ff0000","#0000ff","#ff00ff","#ff0000","#0000ff","#ff00ff"]}, "legend": {"title": null, "labelExpr": "['R-SD','Grouse (η=0.001)','R-SGD : decay (η=1e-06, λ=0.1)','R-SVRG : fix (η=5e-06)','R-SVRG : decay (η=7e-06, λ=0.001)','R-SVRG : hybrid (η=6e-06, λ=0.01)','R-SVRG+ : fix (η=6e-06)','R-SVRG+ : decay (η=6e-06, λ=0.01)','R-SVRG+ : hybrid (η=7e-06, λ=0.001)'][indexof(['sd','gr','sgd','svf','svd','svh','spf','spd','sph'], datum.value)]"}},
    "strokeDash": {"field": "k", "type": "nominal", "scale": {"domain": ["sd","gr","sgd","svf","svd","svh","spf","spd","sph"], "range": [[1,0],[1,0],[1,0],[1,0],[1,0],[1,0],[7,3,2,3],[7,3,2,3],[7,3,2,3]]}, "legend": {"title": null, "labelExpr": "['R-SD','Grouse (η=0.001)','R-SGD : decay (η=1e-06, λ=0.1)','R-SVRG : fix (η=5e-06)','R-SVRG : decay (η=7e-06, λ=0.001)','R-SVRG : hybrid (η=6e-06, λ=0.01)','R-SVRG+ : fix (η=6e-06)','R-SVRG+ : decay (η=6e-06, λ=0.01)','R-SVRG+ : hybrid (η=7e-06, λ=0.001)'][indexof(['sd','gr','sgd','svf','svd','svh','spf','spd','sph'], datum.value)]"}}
   }},
  {"mark": {"type": "line", "opacity": 0, "clip": true},
   "encoding": {
    "x": {"field": "x", "type": "quantitative", "scale": {"domain": [0, 500], "nice": false, "zero": false}, "axis": {"orient": "top", "values": [0, 100, 200, 300, 400, 500], "labels": false, "title": null}},
    "y": {"field": "y", "type": "quantitative", "scale": {"domain": [8200, 8600], "nice": false, "zero": false}, "axis": {"orient": "right", "values": [8200, 8300, 8400, 8500, 8600], "labels": false, "title": null}}
   }}
 ],
 "resolve": {"axis": {"x": "independent", "y": "independent"}}
},
{
 "width": 320, "height": 244,
 "title": {"text": "(e) Train loss (MovieLens-1M).", "dx": -18},
 "data": {"values": [
  {"k":"svf","x":62,"y":134.3},{"k":"svf","x":65,"y":134.0},{"k":"svf","x":70,"y":133.6},{"k":"svf","x":75,"y":133.2},{"k":"svf","x":80,"y":132.85},{"k":"svf","x":88,"y":132.45},{"k":"svf","x":100,"y":132.0},{"k":"svf","x":117,"y":131.67},{"k":"svf","x":147,"y":131.43},{"k":"svf","x":180,"y":131.3},{"k":"svf","x":205,"y":131.2},{"k":"svf","x":212,"y":131.18},{"k":"svf","x":216,"y":131.22},{"k":"svf","x":222,"y":131.15},{"k":"svf","x":250,"y":131.12},{"k":"svf","x":292,"y":131.09},{"k":"svf","x":350,"y":131.07},{"k":"svf","x":409,"y":131.06},{"k":"svf","x":500,"y":131.05},{"k":"svf","x":601,"y":131.04},
  {"k":"svd","x":62,"y":134.5},{"k":"svd","x":66,"y":134.0},{"k":"svd","x":70,"y":133.85},{"k":"svd","x":74,"y":133.7},{"k":"svd","x":78,"y":133.63},{"k":"svd","x":83,"y":133.56},{"k":"svd","x":88,"y":133.23},{"k":"svd","x":94,"y":132.81},{"k":"svd","x":100,"y":132.53},{"k":"svd","x":112,"y":132.16},{"k":"svd","x":129,"y":131.79},{"k":"svd","x":158,"y":131.47},{"k":"svd","x":205,"y":131.24},{"k":"svd","x":225,"y":131.2},{"k":"svd","x":229,"y":131.23},{"k":"svd","x":235,"y":131.18},{"k":"svd","x":292,"y":131.12},{"k":"svd","x":350,"y":131.09},{"k":"svd","x":409,"y":131.07},{"k":"svd","x":500,"y":131.06},{"k":"svd","x":601,"y":131.05},
  {"k":"svh","x":85,"y":134.3},{"k":"svh","x":89,"y":134.0},{"k":"svh","x":95,"y":133.6},{"k":"svh","x":100,"y":133.23},{"k":"svh","x":112,"y":132.81},{"k":"svh","x":129,"y":132.4},{"k":"svh","x":147,"y":132.12},{"k":"svh","x":176,"y":131.79},{"k":"svh","x":205,"y":131.55},{"k":"svh","x":234,"y":131.43},{"k":"svh","x":270,"y":131.3},{"k":"svh","x":292,"y":131.22},{"k":"svh","x":350,"y":131.17},{"k":"svh","x":400,"y":131.15},{"k":"svh","x":452,"y":131.15},{"k":"svh","x":455,"y":131.18},{"k":"svh","x":460,"y":131.14},{"k":"svh","x":505,"y":131.13},{"k":"svh","x":510,"y":131.77},{"k":"svh","x":516,"y":131.25},{"k":"svh","x":524,"y":131.25},{"k":"svh","x":530,"y":131.15},{"k":"svh","x":560,"y":131.12},{"k":"svh","x":580,"y":131.13},{"k":"svh","x":590,"y":131.11},{"k":"svh","x":600,"y":131.13},
  {"k":"spf","x":88,"y":134.3},{"k":"spf","x":91,"y":134.0},{"k":"spf","x":98,"y":133.6},{"k":"spf","x":106,"y":133.23},{"k":"spf","x":117,"y":133.0},{"k":"spf","x":130,"y":132.7},{"k":"spf","x":147,"y":132.44},{"k":"spf","x":160,"y":132.25},{"k":"spf","x":176,"y":132.07},{"k":"spf","x":190,"y":131.9},{"k":"spf","x":205,"y":131.74},{"k":"spf","x":220,"y":131.62},{"k":"spf","x":234,"y":131.51},{"k":"spf","x":250,"y":131.44},{"k":"spf","x":263,"y":131.37},{"k":"spf","x":280,"y":131.25},{"k":"spf","x":295,"y":131.18},{"k":"spf","x":305,"y":131.14},{"k":"spf","x":310,"y":131.3},{"k":"spf","x":315,"y":131.12},{"k":"spf","x":330,"y":131.1},{"k":"spf","x":345,"y":131.09},{"k":"spf","x":348,"y":131.2},{"k":"spf","x":353,"y":131.08},{"k":"spf","x":370,"y":131.02},{"k":"spf","x":408,"y":131.0},{"k":"spf","x":450,"y":130.98},{"k":"spf","x":500,"y":130.96},{"k":"spf","x":550,"y":130.94},{"k":"spf","x":601,"y":130.93},
  {"k":"spd","x":60,"y":134.2},{"k":"spd","x":62,"y":134.0},{"k":"spd","x":70,"y":133.4},{"k":"spd","x":80,"y":132.9},{"k":"spd","x":88,"y":132.55},{"k":"spd","x":92,"y":132.35},{"k":"spd","x":97,"y":132.15},{"k":"spd","x":100,"y":132.6},{"k":"spd","x":103,"y":133.72},{"k":"spd","x":105,"y":133.0},{"k":"spd","x":108,"y":132.3},{"k":"spd","x":112,"y":131.95},{"k":"spd","x":123,"y":131.56},{"k":"spd","x":135,"y":131.4},{"k":"spd","x":147,"y":131.28},{"k":"spd","x":175,"y":131.12},{"k":"spd","x":205,"y":131.07},{"k":"spd","x":235,"y":131.0},{"k":"spd","x":263,"y":130.95},{"k":"spd","x":300,"y":130.93},{"k":"spd","x":376,"y":130.9},{"k":"spd","x":379,"y":130.94},{"k":"spd","x":384,"y":130.9},{"k":"spd","x":450,"y":130.89},{"k":"spd","x":478,"y":130.88},{"k":"spd","x":481,"y":130.91},{"k":"spd","x":485,"y":130.88},{"k":"spd","x":550,"y":130.87},{"k":"spd","x":601,"y":130.87},
  {"k":"sph","x":90,"y":134.2},{"k":"sph","x":92,"y":134.0},{"k":"sph","x":97,"y":133.4},{"k":"sph","x":100,"y":133.0},{"k":"sph","x":104,"y":132.6},{"k":"sph","x":108,"y":132.3},{"k":"sph","x":113,"y":132.02},{"k":"sph","x":120,"y":131.93},{"k":"sph","x":128,"y":131.84},{"k":"sph","x":132,"y":131.88},{"k":"sph","x":136,"y":131.75},{"k":"sph","x":142,"y":131.6},{"k":"sph","x":150,"y":131.45},{"k":"sph","x":160,"y":131.35},{"k":"sph","x":170,"y":131.27},{"k":"sph","x":175,"y":131.23},{"k":"sph","x":178,"y":131.3},{"k":"sph","x":182,"y":131.2},{"k":"sph","x":200,"y":131.07},{"k":"sph","x":230,"y":131.0},{"k":"sph","x":262,"y":130.95},{"k":"sph","x":266,"y":130.96},{"k":"sph","x":269,"y":131.05},{"k":"sph","x":273,"y":130.95},{"k":"sph","x":300,"y":130.92},{"k":"sph","x":400,"y":130.89},{"k":"sph","x":500,"y":130.88},{"k":"sph","x":601,"y":130.87}
 ]},
 "layer": [
  {"mark": {"type": "line", "clip": true, "strokeWidth": 1.9},
   "encoding": {
    "x": {"field": "x", "type": "quantitative", "scale": {"domain": [42, 600], "nice": false, "zero": false}, "axis": {"values": [100, 200, 300, 400, 500, 600], "title": "#grad/N"}},
    "y": {"field": "y", "type": "quantitative", "scale": {"domain": [130.6, 134], "nice": false, "zero": false}, "axis": {"values": [131, 131.5, 132, 132.5, 133, 133.5, 134], "format": "~g", "title": "Train loss on train set Ω", "titleFontSize": 15.5}},
    "color": {"field": "k", "type": "nominal", "scale": {"domain": ["sd","sgd","svf","svd","svh","spf","spd","sph"], "range": ["#00ffff","#000000","#ff0000","#0000ff","#ff00ff","#ff0000","#0000ff","#ff00ff"]}, "legend": {"title": null, "labelExpr": "['R-SD','R-SGD : decay (η=1e-05, λ=0.001)','R-SVRG : fix (η=5e-05)','R-SVRG : decay (η=4e-05, λ=0.001)','R-SVRG : hybrid (η=4e-05, λ=0.01)','R-SVRG+ : fix (η=3e-05)','R-SVRG+ : decay (η=5e-05, λ=0.001)','R-SVRG+ : hybrid (η=5e-05, λ=0.1)'][indexof(['sd','sgd','svf','svd','svh','spf','spd','sph'], datum.value)]"}},
    "strokeDash": {"field": "k", "type": "nominal", "scale": {"domain": ["sd","sgd","svf","svd","svh","spf","spd","sph"], "range": [[1,0],[1,0],[1,0],[1,0],[1,0],[7,3,2,3],[7,3,2,3],[7,3,2,3]]}, "legend": {"title": null, "labelExpr": "['R-SD','R-SGD : decay (η=1e-05, λ=0.001)','R-SVRG : fix (η=5e-05)','R-SVRG : decay (η=4e-05, λ=0.001)','R-SVRG : hybrid (η=4e-05, λ=0.01)','R-SVRG+ : fix (η=3e-05)','R-SVRG+ : decay (η=5e-05, λ=0.001)','R-SVRG+ : hybrid (η=5e-05, λ=0.1)'][indexof(['sd','sgd','svf','svd','svh','spf','spd','sph'], datum.value)]"}}
   }},
  {"mark": {"type": "line", "opacity": 0, "clip": true},
   "encoding": {
    "x": {"field": "x", "type": "quantitative", "scale": {"domain": [42, 600], "nice": false, "zero": false}, "axis": {"orient": "top", "values": [100, 200, 300, 400, 500, 600], "labels": false, "title": null}},
    "y": {"field": "y", "type": "quantitative", "scale": {"domain": [130.6, 134], "nice": false, "zero": false}, "axis": {"orient": "right", "values": [131, 131.5, 132, 132.5, 133, 133.5, 134], "labels": false, "title": null}}
   }}
 ],
 "resolve": {"axis": {"x": "independent", "y": "independent"}}
},
{
 "width": 321, "height": 244,
 "title": {"text": "(f) Test loss (MovieLens-1M).", "dx": -16},
 "data": {"values": [
  {"k":"sd","x":31,"y":40.2},{"k":"sd","x":33,"y":39.9},{"k":"sd","x":35,"y":39.75},{"k":"sd","x":40,"y":39.45},{"k":"sd","x":45,"y":39.15},{"k":"sd","x":48,"y":39.0},{"k":"sd","x":50,"y":38.85},{"k":"sd","x":52,"y":38.6},{"k":"sd","x":54,"y":38.37},{"k":"sd","x":60,"y":38.33},{"k":"sd","x":80,"y":38.3},{"k":"sd","x":98,"y":38.27},
  {"k":"sgd","x":0,"y":40.2},{"k":"sgd","x":3,"y":39.96},{"k":"sgd","x":10,"y":39.8},{"k":"sgd","x":15,"y":39.65},{"k":"sgd","x":18.5,"y":39.59},{"k":"sgd","x":24.6,"y":39.37},{"k":"sgd","x":29,"y":39.0},{"k":"sgd","x":33.8,"y":38.67},{"k":"sgd","x":38,"y":38.2},{"k":"sgd","x":43,"y":37.83},{"k":"sgd","x":48,"y":37.62},{"k":"sgd","x":53,"y":37.4},{"k":"sgd","x":58.4,"y":37.18},{"k":"sgd","x":63,"y":37.05},{"k":"sgd","x":68,"y":36.95},{"k":"sgd","x":73.7,"y":36.81},{"k":"sgd","x":78,"y":36.7},{"k":"sgd","x":83,"y":36.55},{"k":"sgd","x":88,"y":36.3},{"k":"sgd","x":91,"y":36.2},{"k":"sgd","x":94,"y":36.28},{"k":"sgd","x":97,"y":36.1},{"k":"sgd","x":101,"y":36.07},{"k":"sgd","x":106,"y":35.95},{"k":"sgd","x":110,"y":35.88},{"k":"sgd","x":115,"y":35.82},{"k":"sgd","x":120,"y":35.79},{"k":"sgd","x":125,"y":35.72},{"k":"sgd","x":130,"y":35.65},{"k":"sgd","x":135,"y":35.6},{"k":"sgd","x":141,"y":35.51},{"k":"sgd","x":145,"y":35.4},{"k":"sgd","x":147.4,"y":35.32},{"k":"sgd","x":151,"y":35.3},{"k":"sgd","x":156,"y":35.33},{"k":"sgd","x":160,"y":35.22},{"k":"sgd","x":164,"y":35.3},{"k":"sgd","x":168,"y":35.35},{"k":"sgd","x":172,"y":35.2},{"k":"sgd","x":176,"y":35.15},{"k":"sgd","x":181,"y":35.04},{"k":"sgd","x":186,"y":34.98},{"k":"sgd","x":190,"y":34.9},{"k":"sgd","x":194,"y":34.98},{"k":"sgd","x":198,"y":35.1},{"k":"sgd","x":202,"y":34.92},{"k":"sgd","x":206,"y":35.0},{"k":"sgd","x":210,"y":34.95},{"k":"sgd","x":214,"y":34.98},{"k":"sgd","x":218,"y":34.9},{"k":"sgd","x":222,"y":34.92},{"k":"sgd","x":226,"y":34.95},{"k":"sgd","x":230,"y":34.9},{"k":"sgd","x":235,"y":34.93},{"k":"sgd","x":240,"y":34.86},{"k":"sgd","x":245,"y":34.9},{"k":"sgd","x":250,"y":34.85},{"k":"sgd","x":255,"y":34.88},{"k":"sgd","x":260,"y":34.8},{"k":"sgd","x":265,"y":34.84},{"k":"sgd","x":270,"y":34.78},{"k":"sgd","x":275,"y":34.76},{"k":"sgd","x":280,"y":34.72},{"k":"sgd","x":285,"y":34.82},{"k":"sgd","x":290,"y":34.8},{"k":"sgd","x":295,"y":34.85},{"k":"sgd","x":300,"y":34.78},{"k":"sgd","x":305,"y":34.82},{"k":"sgd","x":310,"y":34.86},{"k":"sgd","x":315,"y":34.78},{"k":"sgd","x":320,"y":34.84},{"k":"sgd","x":325,"y":34.8},{"k":"sgd","x":330,"y":34.86},{"k":"sgd","x":335,"y":34.83},{"k":"sgd","x":340,"y":34.78},{"k":"sgd","x":345,"y":34.85},{"k":"sgd","x":350,"y":34.8},{"k":"sgd","x":355,"y":34.88},{"k":"sgd","x":360,"y":34.95},{"k":"sgd","x":365,"y":34.8},{"k":"sgd","x":370,"y":34.68},{"k":"sgd","x":375,"y":34.78},{"k":"sgd","x":380,"y":34.8},{"k":"sgd","x":385,"y":34.7},{"k":"sgd","x":390,"y":34.78},{"k":"sgd","x":395,"y":34.72},{"k":"sgd","x":400,"y":34.76},{"k":"sgd","x":405,"y":34.7},{"k":"sgd","x":410,"y":34.75},{"k":"sgd","x":415,"y":34.8},{"k":"sgd","x":420,"y":34.72},{"k":"sgd","x":425,"y":34.76},{"k":"sgd","x":430,"y":34.84},{"k":"sgd","x":435,"y":34.78},{"k":"sgd","x":440,"y":34.82},{"k":"sgd","x":445,"y":34.75},{"k":"sgd","x":450,"y":34.8},{"k":"sgd","x":455,"y":34.72},{"k":"sgd","x":460,"y":34.7},{"k":"sgd","x":465,"y":34.68},{"k":"sgd","x":470,"y":34.7},{"k":"sgd","x":475,"y":34.66},{"k":"sgd","x":480,"y":34.72},{"k":"sgd","x":485,"y":34.82},{"k":"sgd","x":488,"y":34.7},{"k":"sgd","x":492,"y":34.66},{"k":"sgd","x":495,"y":34.75},{"k":"sgd","x":500,"y":34.74},
  {"k":"svf","x":3,"y":40.2},{"k":"svf","x":5,"y":39.5},{"k":"svf","x":8,"y":38.5},{"k":"svf","x":12,"y":37.3},{"k":"svf","x":16,"y":36.3},{"k":"svf","x":20,"y":35.5},{"k":"svf","x":25,"y":34.8},{"k":"svf","x":30,"y":34.3},{"k":"svf","x":35,"y":34.0},{"k":"svf","x":40,"y":33.8},{"k":"svf","x":50,"y":33.6},{"k":"svf","x":60,"y":33.5},{"k":"svf","x":70,"y":33.42},{"k":"svf","x":80,"y":33.35},{"k":"svf","x":100,"y":33.3},{"k":"svf","x":150,"y":33.3},{"k":"svf","x":200,"y":33.32},{"k":"svf","x":300,"y":33.36},{"k":"svf","x":400,"y":33.39},{"k":"svf","x":500,"y":33.41},{"k":"svf","x":600,"y":33.43},
  {"k":"svd","x":2,"y":40.2},{"k":"svd","x":4,"y":39.4},{"k":"svd","x":7,"y":38.5},{"k":"svd","x":11,"y":37.2},{"k":"svd","x":15,"y":36.2},{"k":"svd","x":20,"y":35.3},{"k":"svd","x":25,"y":34.6},{"k":"svd","x":30,"y":34.15},{"k":"svd","x":35,"y":33.9},{"k":"svd","x":40,"y":33.7},{"k":"svd","x":50,"y":33.55},{"k":"svd","x":60,"y":33.45},{"k":"svd","x":70,"y":33.38},{"k":"svd","x":80,"y":33.33},{"k":"svd","x":100,"y":33.28},{"k":"svd","x":150,"y":33.27},{"k":"svd","x":200,"y":33.29},{"k":"svd","x":300,"y":33.32},{"k":"svd","x":400,"y":33.35},{"k":"svd","x":500,"y":33.37},{"k":"svd","x":600,"y":33.38},
  {"k":"svh","x":4,"y":40.2},{"k":"svh","x":6,"y":39.5},{"k":"svh","x":9,"y":38.5},{"k":"svh","x":14,"y":37.2},{"k":"svh","x":18,"y":36.2},{"k":"svh","x":23,"y":35.4},{"k":"svh","x":28,"y":34.7},{"k":"svh","x":33,"y":34.2},{"k":"svh","x":40,"y":33.85},{"k":"svh","x":50,"y":33.6},{"k":"svh","x":60,"y":33.48},{"k":"svh","x":70,"y":33.4},{"k":"svh","x":80,"y":33.33},{"k":"svh","x":100,"y":33.27},{"k":"svh","x":150,"y":33.24},{"k":"svh","x":200,"y":33.24},{"k":"svh","x":300,"y":33.24},{"k":"svh","x":400,"y":33.25},{"k":"svh","x":505,"y":33.25},{"k":"svh","x":510,"y":33.38},{"k":"svh","x":515,"y":33.27},{"k":"svh","x":550,"y":33.25},{"k":"svh","x":600,"y":33.23},
  {"k":"spf","x":6,"y":40.2},{"k":"spf","x":8,"y":39.5},{"k":"spf","x":12,"y":38.3},{"k":"spf","x":18,"y":36.8},{"k":"spf","x":24,"y":35.6},{"k":"spf","x":30,"y":34.9},{"k":"spf","x":40,"y":34.4},{"k":"spf","x":50,"y":34.1},{"k":"spf","x":60,"y":33.9},{"k":"spf","x":70,"y":33.75},{"k":"spf","x":80,"y":33.65},{"k":"spf","x":90,"y":33.58},{"k":"spf","x":100,"y":33.52},{"k":"spf","x":120,"y":33.47},{"k":"spf","x":150,"y":33.45},{"k":"spf","x":200,"y":33.46},{"k":"spf","x":300,"y":33.47},{"k":"spf","x":400,"y":33.48},{"k":"spf","x":500,"y":33.49},{"k":"spf","x":600,"y":33.5},
  {"k":"spd","x":0,"y":40.2},{"k":"spd","x":3,"y":39.0},{"k":"spd","x":6,"y":38.0},{"k":"spd","x":9,"y":36.9},{"k":"spd","x":12,"y":36.2},{"k":"spd","x":16,"y":35.5},{"k":"spd","x":20,"y":35.0},{"k":"spd","x":25,"y":34.6},{"k":"spd","x":30,"y":34.35},{"k":"spd","x":35,"y":34.2},{"k":"spd","x":40,"y":34.05},{"k":"spd","x":45,"y":34.0},{"k":"spd","x":50,"y":33.95},{"k":"spd","x":55,"y":33.88},{"k":"spd","x":60,"y":34.0},{"k":"spd","x":65,"y":33.8},{"k":"spd","x":70,"y":33.7},{"k":"spd","x":80,"y":33.6},{"k":"spd","x":90,"y":33.52},{"k":"spd","x":95,"y":33.55},{"k":"spd","x":98,"y":33.85},{"k":"spd","x":102,"y":33.7},{"k":"spd","x":108,"y":33.55},{"k":"spd","x":120,"y":33.48},{"k":"spd","x":150,"y":33.47},{"k":"spd","x":200,"y":33.48},{"k":"spd","x":300,"y":33.5},{"k":"spd","x":400,"y":33.51},{"k":"spd","x":500,"y":33.52},{"k":"spd","x":600,"y":33.52},
  {"k":"sph","x":22,"y":40.2},{"k":"sph","x":24,"y":39.5},{"k":"sph","x":26,"y":38.5},{"k":"sph","x":30,"y":37.2},{"k":"sph","x":35,"y":36.0},{"k":"sph","x":40,"y":35.2},{"k":"sph","x":45,"y":34.7},{"k":"sph","x":48,"y":34.55},{"k":"sph","x":51,"y":34.85},{"k":"sph","x":55,"y":34.6},{"k":"sph","x":61,"y":34.4},{"k":"sph","x":65,"y":34.35},{"k":"sph","x":70,"y":34.2},{"k":"sph","x":75,"y":34.15},{"k":"sph","x":80,"y":34.15},{"k":"sph","x":85,"y":34.1},{"k":"sph","x":89,"y":34.1},{"k":"sph","x":92,"y":33.9},{"k":"sph","x":95,"y":33.72},{"k":"sph","x":100,"y":33.6},{"k":"sph","x":110,"y":33.5},{"k":"sph","x":130,"y":33.48},{"k":"sph","x":150,"y":33.48},{"k":"sph","x":175,"y":33.5},{"k":"sph","x":180,"y":33.53},{"k":"sph","x":185,"y":33.5},{"k":"sph","x":200,"y":33.5},{"k":"sph","x":300,"y":33.52},{"k":"sph","x":400,"y":33.53},{"k":"sph","x":500,"y":33.54},{"k":"sph","x":600,"y":33.54}
 ]},
 "layer": [
  {"mark": {"type": "line", "clip": true, "strokeWidth": 1.9},
   "encoding": {
    "x": {"field": "x", "type": "quantitative", "scale": {"domain": [0, 600], "nice": false, "zero": false}, "axis": {"values": [0, 100, 200, 300, 400, 500, 600], "title": "#grad/N"}},
    "y": {"field": "y", "type": "quantitative", "scale": {"domain": [33, 40], "nice": false, "zero": false}, "axis": {"values": [33, 34, 35, 36, 37, 38, 39, 40], "format": "d", "title": "Test loss on test set Γ", "titleFontSize": 18}},
    "color": {"field": "k", "type": "nominal", "scale": {"domain": ["sd","sgd","svf","svd","svh","spf","spd","sph"], "range": ["#00ffff","#000000","#ff0000","#0000ff","#ff00ff","#ff0000","#0000ff","#ff00ff"]}, "legend": {"title": null, "labelExpr": "['R-SD','R-SGD : decay (η=1e-05, λ=0.001)','R-SVRG : fix (η=5e-05)','R-SVRG : decay (η=4e-05, λ=0.001)','R-SVRG : hybrid (η=4e-05, λ=0.01)','R-SVRG+ : fix (η=3e-05)','R-SVRG+ : decay (η=5e-05, λ=0.001)','R-SVRG+ : hybrid (η=5e-05, λ=0.1)'][indexof(['sd','sgd','svf','svd','svh','spf','spd','sph'], datum.value)]"}},
    "strokeDash": {"field": "k", "type": "nominal", "scale": {"domain": ["sd","sgd","svf","svd","svh","spf","spd","sph"], "range": [[1,0],[1,0],[1,0],[1,0],[1,0],[7,3,2,3],[7,3,2,3],[7,3,2,3]]}, "legend": {"title": null, "labelExpr": "['R-SD','R-SGD : decay (η=1e-05, λ=0.001)','R-SVRG : fix (η=5e-05)','R-SVRG : decay (η=4e-05, λ=0.001)','R-SVRG : hybrid (η=4e-05, λ=0.01)','R-SVRG+ : fix (η=3e-05)','R-SVRG+ : decay (η=5e-05, λ=0.001)','R-SVRG+ : hybrid (η=5e-05, λ=0.1)'][indexof(['sd','sgd','svf','svd','svh','spf','spd','sph'], datum.value)]"}}
   }},
  {"mark": {"type": "line", "opacity": 0, "clip": true},
   "encoding": {
    "x": {"field": "x", "type": "quantitative", "scale": {"domain": [0, 600], "nice": false, "zero": false}, "axis": {"orient": "top", "values": [0, 100, 200, 300, 400, 500, 600], "labels": false, "title": null}},
    "y": {"field": "y", "type": "quantitative", "scale": {"domain": [33, 40], "nice": false, "zero": false}, "axis": {"orient": "right", "values": [33, 34, 35, 36, 37, 38, 39, 40], "labels": false, "title": null}}
   }}
 ],
 "resolve": {"axis": {"x": "independent", "y": "independent"}}
}
]
}
